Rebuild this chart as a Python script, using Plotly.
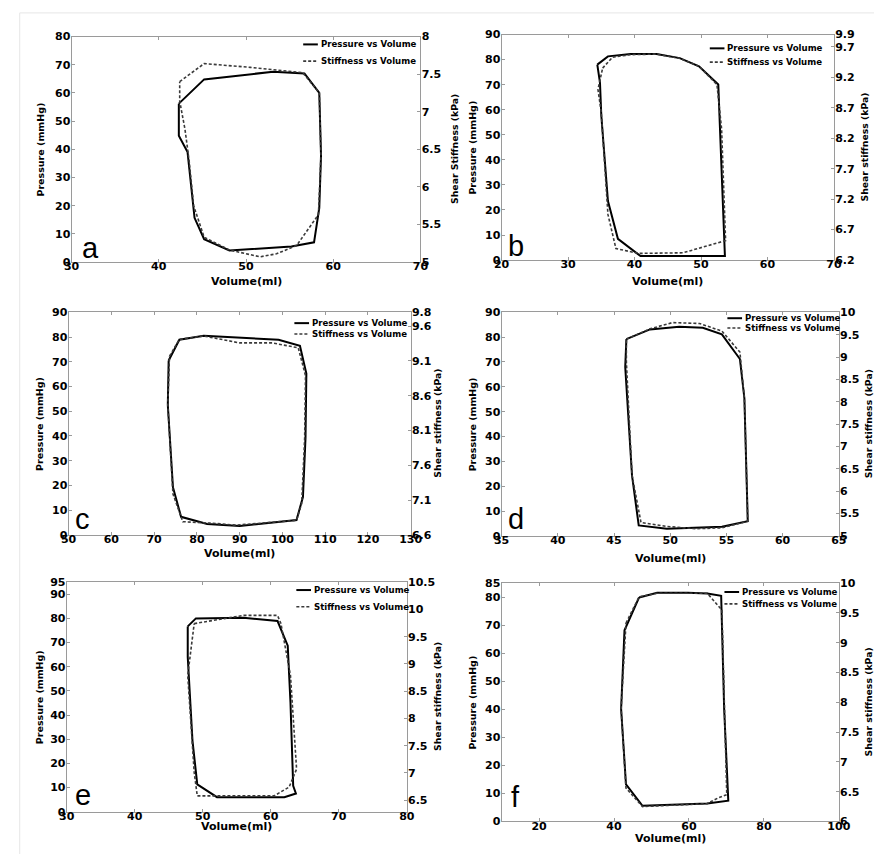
import plotly.graph_objects as go

# ---------------- data ----------------
# panel a
a_vol_p = [42.3, 45.2, 53.1, 56.7, 58.4, 58.6, 58.4, 57.8, 55.2, 48.1, 45.2, 44.1, 43.3, 42.3]
a_pres = [56.2, 64.8, 67.5, 66.9, 60.0, 37.8, 19.2, 7.0, 5.5, 4.1, 8.1, 15.7, 39.0, 44.8]
a_vol_s = [42.4, 45.2, 50.5, 56.5, 58.4, 58.6, 58.3, 55.8, 53.5, 51.6, 48.1, 45.2, 44.0, 43.5, 43.0, 42.4]
a_stiff = [7.40, 7.64, 7.59, 7.52, 7.25, 6.42, 5.63, 5.22, 5.11, 5.07, 5.16, 5.33, 5.75, 6.33, 6.77, 7.14]
# panel b
b_vol_p = [34.4, 36.0, 39.4, 43.3, 46.8, 49.7, 52.6, 53.6, 40.9, 37.5, 36.0, 35.0, 34.8]
b_pres = [78.0, 81.3, 82.2, 82.2, 80.6, 77.3, 70.1, 1.6, 1.6, 8.5, 23.6, 57.7, 70.8]
b_vol_s = [35.2, 36.7, 39.4, 43.3, 46.8, 49.7, 52.4, 53.1, 53.7, 47.3, 40.6, 37.2, 36.0, 35.0, 34.5, 34.9]
b_stiff = [9.35, 9.53, 9.57, 9.58, 9.51, 9.38, 9.08, 8.35, 6.52, 6.32, 6.31, 6.39, 6.95, 8.62, 9.00, 9.20]
# panel c
c_vol_p = [73.4, 75.9, 81.6, 90.0, 99.1, 104.1, 105.6, 105.4, 104.8, 103.3, 90.0, 82.4, 76.3, 74.4, 73.2]
c_pres = [70.5, 78.9, 80.5, 79.8, 78.9, 76.5, 65.2, 39.2, 15.3, 6.0, 3.6, 4.4, 7.3, 19.3, 52.5]
c_vol_s = [73.6, 75.9, 81.6, 90.0, 97.6, 103.7, 105.4, 105.2, 104.5, 103.3, 89.2, 83.1, 76.7, 74.4, 73.2]
c_stiff = [9.17, 9.41, 9.46, 9.36, 9.36, 9.29, 8.89, 7.99, 7.05, 6.81, 6.74, 6.77, 6.79, 7.19, 8.47]
# panel d
d_vol_p = [46.1, 48.2, 50.8, 52.9, 54.6, 56.2, 56.6, 56.9, 54.6, 49.7, 47.2, 46.6, 46.0]
d_pres = [79.2, 83.1, 84.2, 83.8, 81.1, 71.2, 55.4, 5.9, 3.7, 2.9, 4.2, 24.4, 68.0]
d_vol_s = [46.1, 48.2, 50.2, 52.6, 54.6, 56.2, 56.6, 56.9, 54.6, 52.3, 49.7, 47.4, 46.6, 46.1]
d_stiff = [9.40, 9.63, 9.77, 9.75, 9.58, 9.11, 8.08, 5.33, 5.18, 5.16, 5.21, 5.30, 6.36, 8.89]
# panel e
e_vol_p = [47.8, 49.0, 56.0, 61.0, 62.5, 62.9, 63.3, 63.7, 62.0, 52.1, 49.2, 48.5, 47.8]
e_pres = [76.7, 80.0, 80.3, 78.9, 68.7, 45.3, 10.7, 7.5, 6.0, 6.0, 11.3, 29.3, 64.0]
e_vol_s = [48.75, 56.0, 61.0, 61.5, 62.9, 63.8, 62.7, 60.5, 52.1, 49.2, 48.75, 47.8]
e_stiff = [9.74, 9.89, 9.89, 9.74, 8.79, 7.07, 6.74, 6.58, 6.58, 6.58, 7.01, 8.79]
# panel f
f_vol_p = [46.7, 51.5, 59.7, 64.9, 68.6, 68.8, 69.4, 70.5, 66.6, 64.9, 47.6, 43.2, 41.9, 42.8]
f_pres = [79.9, 81.6, 81.6, 81.3, 80.5, 69.4, 40.1, 7.4, 6.8, 6.4, 5.6, 13.2, 40.1, 68.2]
f_vol_s = [43.2, 46.7, 51.5, 64.9, 68.8, 69.0, 70.1, 67.6, 64.9, 47.6, 43.2, 41.9]
f_stiff = [9.33, 9.77, 9.83, 9.83, 9.55, 8.99, 6.45, 6.39, 6.30, 6.25, 6.56, 7.89]

panel_letters = ["a", "b", "c", "d", "e", "f"]
legend_labels = ["Pressure vs Volume", "Stiffness vs Volume"]
x_title = "Volume(ml)"
y_left_title = "Pressure (mmHg)"
y_right_titles = ["Shear Stiffness (kPa)", "Shear stiffness (kPa)", "Shear stiffness (kPa)",
                  "Shear stiffness (kPa)", "Shear stiffness (kPa)", "Shear stiffness (kPa)"]

# axis ranges / ticks
x_ranges = [[30, 70], [20, 70], [50, 130], [35, 65], [30, 80], [10, 100]]
x_ticks = [["30", "40", "50", "60", "70"], ["20", "30", "40", "50", "60", "70"],
           ["50", "60", "70", "80", "90", "100", "110", "120", "130"],
           ["35", "40", "45", "50", "55", "60", "65"],
           ["30", "40", "50", "60", "70", "80"], ["20", "40", "60", "80", "100"]]
yl_ranges = [[0, 80], [0, 90], [0, 90], [0, 90], [0, 95], [0, 85]]
yl_ticks = [["0", "10", "20", "30", "40", "50", "60", "70", "80"],
            ["0", "10", "20", "30", "40", "50", "60", "70", "80", "90"],
            ["0", "10", "20", "30", "40", "50", "60", "70", "80", "90"],
            ["0", "10", "20", "30", "40", "50", "60", "70", "80", "90"],
            ["0", "10", "20", "30", "40", "50", "60", "70", "80", "90", "95"],
            ["0", "10", "20", "30", "40", "50", "60", "70", "80", "85"]]
yr_ranges = [[5, 8], [6.2, 9.9], [6.6, 9.8], [5, 10], [6.29, 10.5], [6, 10]]
yr_ticks = [["5", "5.5", "6", "6.5", "7", "7.5", "8"],
            ["6.2", "6.7", "7.2", "7.7", "8.2", "8.7", "9.2", "9.7", "9.9"],
            ["6.6", "7.1", "7.6", "8.1", "8.6", "9.1", "9.6", "9.8"],
            ["5", "5.5", "6", "6.5", "7", "7.5", "8", "8.5", "9", "9.5", "10"],
            ["6.5", "7", "7.5", "8", "8.5", "9", "9.5", "10", "10.5"],
            ["6", "6.5", "7", "7.5", "8", "8.5", "9", "9.5", "10"]]

series = [(a_vol_p, a_pres, a_vol_s, a_stiff), (b_vol_p, b_pres, b_vol_s, b_stiff),
          (c_vol_p, c_pres, c_vol_s, c_stiff), (d_vol_p, d_pres, d_vol_s, d_stiff),
          (e_vol_p, e_pres, e_vol_s, e_stiff), (f_vol_p, f_pres, f_vol_s, f_stiff)]

# ---------------- layout geometry (pixels) ----------------
W, H = 886, 861
boxes = [(65, 422, 31, 260), (505, 845, 29, 258), (62, 412, 311, 537),
         (505, 850, 311, 538), (60, 408, 585, 818), (505, 850, 586, 828)]
ylt_x = [33, 475, 32, 475, 33, 475]
yrt_x = [457, 876, 440, 880, 440, 880]
xt_y = [280, 280, 556, 561, 833, 845]
letter_pos = [(75, 256), (511, 254), (68, 531), (511, 531), (68, 811), (514, 813)]
leg_pos = [(302, 39, 17), (718, 43, 14), (293, 322, 11), (736, 317, 10), (295, 593, 17), (733, 595, 12)]


def px(x):
    return x / W


def py(y):
    return 1 - y / H


def bold(labels):
    return [f"<b>{t}</b>" for t in labels]


FONT = "DejaVu Sans, Liberation Sans, Arial, sans-serif"
LFONT = "Liberation Sans, Arial, sans-serif"
AX = "#9a9a9a"

fig = go.Figure()
layout = dict(width=W, height=H, margin=dict(l=0, r=0, t=0, b=0),
              paper_bgcolor="white", plot_bgcolor="white", showlegend=False,
              font=dict(family=FONT, color="black"))
annotations = []
shapes = []

for i in range(6):
    n = i + 1
    xa = "x" if n == 1 else f"x{n}"
    ya = "y" if n == 1 else f"y{n}"
    yr = f"y{n + 6}"
    vp, pr, vs, st = series[i]
    fig.add_trace(go.Scatter(x=vp + vp[:1], y=pr + pr[:1], xaxis=xa, yaxis=ya, mode="lines",
                             line=dict(color="black", width=2), name=legend_labels[0]))
    fig.add_trace(go.Scatter(x=vs + vs[:1], y=st + st[:1], xaxis=xa, yaxis=yr, mode="lines",
                             line=dict(color="#3a3a3a", width=1.6, dash="3px,2px"),
                             name=legend_labels[1]))
    x0, x1, y0, y1 = boxes[i]
    dom_x = [px(x0), px(x1)]
    dom_y = [py(y1), py(y0)]
    tick = dict(ticks="inside", ticklen=3, tickcolor=AX, showline=True, linecolor=AX,
                linewidth=1, showgrid=False, zeroline=False,
                tickfont=dict(family=FONT, size=11, color="black"))
    xkey = "xaxis" if n == 1 else f"xaxis{n}"
    ykey = "yaxis" if n == 1 else f"yaxis{n}"
    layout[xkey] = dict(domain=dom_x, range=x_ranges[i], anchor=ya, tickmode="array",
                        tickvals=[float(t) for t in x_ticks[i]], ticktext=bold(x_ticks[i]),
                        mirror="ticks", ticklabelstandoff=-6, **tick)
    layout[ykey] = dict(domain=dom_y, range=yl_ranges[i], anchor=xa, tickmode="array",
                        tickvals=[float(t) for t in yl_ticks[i]], ticktext=bold(yl_ticks[i]),
                        ticklabelstandoff=-2, **tick)
    layout[f"yaxis{n + 6}"] = dict(range=yr_ranges[i], overlaying=ya, anchor=xa, side="right",
                                   tickmode="array", tickvals=[float(t) for t in yr_ticks[i]],
                                   ticktext=bold(yr_ticks[i]), ticklabelstandoff=-2, **tick)
    cx = (x0 + x1) / 2
    cy = (y0 + y1) / 2
    annotations.append(dict(text=f"<b>{x_title}</b>", x=px(cx), y=py(xt_y[i]), xref="paper",
                            yref="paper", showarrow=False, xanchor="center", yanchor="middle",
                            font=dict(size=11, family=FONT)))
    annotations.append(dict(text=f"<b>{y_left_title}</b>", x=px(ylt_x[i]), y=py(cy), xref="paper",
                            yref="paper", showarrow=False, textangle=-90, xanchor="center",
                            yanchor="middle", font=dict(size=9.5, family=FONT)))
    annotations.append(dict(text=f"<b>{y_right_titles[i]}</b>", x=px(yrt_x[i]), y=py(cy),
                            xref="paper", yref="paper", showarrow=False, textangle=-90,
                            xanchor="center", yanchor="middle", font=dict(size=9.3, family=FONT)))
    lx, ly = letter_pos[i]
    annotations.append(dict(text=panel_letters[i], x=px(lx), y=py(ly), xref="paper", yref="paper",
                            showarrow=False, xanchor="left", yanchor="bottom",
                            font=dict(size=29, family=LFONT, color="black"),
                            borderpad=0, yshift=-7))
    # legend
    gx, gy, gap = leg_pos[i]
    for k, lab in enumerate(legend_labels):
        yy = gy + k * gap
        shapes.append(dict(type="line", xref="paper", yref="paper", x0=px(gx), x1=px(gx + 15),
                           y0=py(yy), y1=py(yy),
                           line=dict(color="black" if k == 0 else "#3a3a3a",
                                     width=2 if k == 0 else 1.6,
                                     dash="solid" if k == 0 else "3px,2px")))
        annotations.append(dict(text=f"<b>{lab}</b>", x=px(gx + 16), y=py(yy), xref="paper",
                                yref="paper", showarrow=False, xanchor="left", yanchor="middle",
                                font=dict(size=8.6, family=FONT)))

# faint outer frame of the scanned figure
shapes.append(dict(type="line", xref="paper", yref="paper", x0=px(12), x1=1, y0=py(7), y1=py(7),
                   line=dict(color="#e6e6e6", width=1)))
shapes.append(dict(type="line", xref="paper", yref="paper", x0=px(12), x1=px(12), y0=py(7), y1=0,
                   line=dict(color="#e6e6e6", width=1)))

layout["annotations"] = annotations
layout["shapes"] = shapes
fig.update_layout(**layout)
fig.write_html("out.html")
